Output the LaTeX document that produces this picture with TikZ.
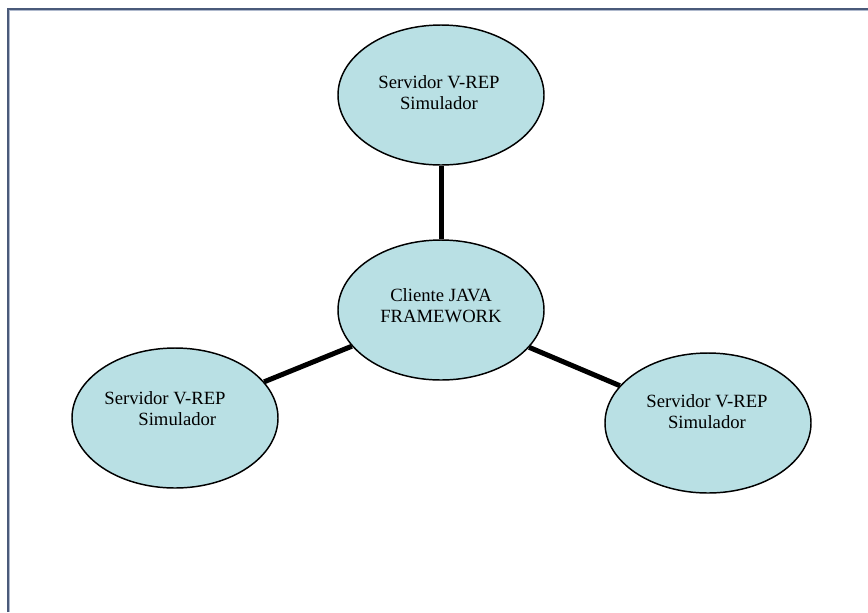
\documentclass[tikz,border=0pt]{standalone}
\usepackage{fontspec}
\setmainfont{Liberation Serif}
\usetikzlibrary{shapes.geometric,backgrounds}
\definecolor{nodefill}{RGB}{185,224,228}
\definecolor{framedark}{RGB}{74,90,122}
\definecolor{framelight}{RGB}{175,185,205}
\begin{document}
\begin{tikzpicture}[x=0.75pt,y=-0.75pt,
  bubble/.style={ellipse,draw=black,line width=1.1pt,fill=nodefill,
    minimum width=154.5pt,minimum height=105pt,inner sep=0pt},
  txt/.style={inner sep=0pt,align=center,font=\fontsize{14}{15.6}\selectfont},
  link/.style={line width=3.75pt,black}]
\useasboundingbox (0,0) rectangle (868,612);
\draw[framedark,line width=1.5pt] (7.5,612) -- (7.5,8.5) -- (868,8.5);
\draw[framelight,line width=0.6pt] (9.6,612) -- (9.6,10.6) -- (868,10.6);
\node[bubble] (top) at (441,95) {};
\node[bubble] (hub) at (441,310) {};
\node[bubble] (left) at (175,418) {};
\node[bubble] (right) at (708,423) {};
\node[txt] (toplbl) at (439,93) {Servidor V-REP\\Simulador};
\node[txt] (hublbl) at (441,306) {Cliente JAVA\\FRAMEWORK};
\node[txt,align=left] (leftlbl) at (165,409) {Servidor V-REP\\\hspace*{25.5pt}Simulador};
\node[txt] (rightlbl) at (707,412) {Servidor V-REP\\Simulador};
\begin{pgfonlayer}{background}
\fill[white] (0,0) rectangle (868,612);
\draw[link] (hub) -- (top);
\draw[link] (hub) -- (left);
\draw[link] (hub) -- (right);
\end{pgfonlayer}
\end{tikzpicture}
\end{document}
